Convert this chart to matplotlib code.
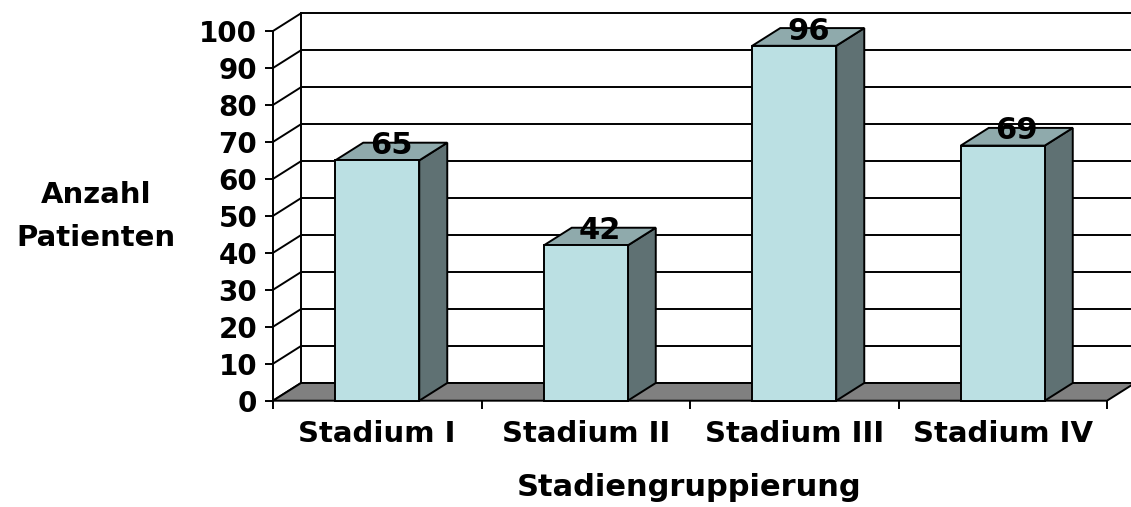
import matplotlib
matplotlib.use("Agg")
import matplotlib.pyplot as plt
from matplotlib.patches import Polygon

# Daten
stadien = ["Stadium I", "Stadium II", "Stadium III", "Stadium IV"]
patienten = [65, 42, 96, 69]
y_ticks = list(range(0, 101, 10))

# Farben (Excel-3D-Stil)
farbe_front = "#BBE0E3"
farbe_seite = "#5F7173"
farbe_oben = "#8FAAAC"
farbe_boden = "#808080"

plt.rcParams["font.family"] = "DejaVu Sans"
plt.rcParams["font.weight"] = "bold"

W, H = 1131, 507
fig = plt.figure(figsize=(W / 100, H / 100), dpi=100)
# Vorderebene des Diagramms
ax = fig.add_axes([273 / W, 1 - 400.7 / H, 834 / W, 369.7 / H])
ax.set_xlim(-0.5, len(stadien) - 0.5)
ax.set_ylim(0, 100)
for s in ax.spines.values():
    s.set_visible(False)

DX = 28 / 208.5   # Tiefe in Kategorie-Einheiten
DY = 17.7 / 3.697  # Tiefe in Werte-Einheiten
x0, x1 = -0.5, len(stadien) - 0.5
lw = 1.4

# Rückwand mit Gitterlinien
for v in y_ticks:
    ax.plot([x0 + DX, x1 + DX + 0.2], [v + DY, v + DY], color="black", lw=lw,
            clip_on=False, zorder=1)
    # Seitenwand-Linien
    ax.plot([x0, x0 + DX], [v, v + DY], color="black", lw=lw, clip_on=False, zorder=1)
ax.plot([x0 + DX, x0 + DX], [DY, 100 + DY], color="black", lw=lw, clip_on=False, zorder=1)

# Boden
boden = Polygon([(x0, 0), (x1, 0), (x1 + DX, DY), (x0 + DX, DY)], closed=True,
                facecolor=farbe_boden, edgecolor="black", lw=lw, clip_on=False, zorder=2)
ax.add_patch(boden)

# Säulen
bw = 0.403
for i, v in enumerate(patienten):
    l, r = i - bw / 2, i + bw / 2
    seite = Polygon([(r, 0), (r + DX, DY), (r + DX, v + DY), (r, v)], closed=True,
                    facecolor=farbe_seite, edgecolor="black", lw=lw, clip_on=False, zorder=3)
    oben = Polygon([(l, v), (r, v), (r + DX, v + DY), (l + DX, v + DY)], closed=True,
                   facecolor=farbe_oben, edgecolor="black", lw=lw, clip_on=False, zorder=3)
    front = Polygon([(l, 0), (r, 0), (r, v), (l, v)], closed=True,
                    facecolor=farbe_front, edgecolor="black", lw=lw, clip_on=False, zorder=3)
    for p in (seite, oben, front):
        ax.add_patch(p)
    ax.text(i + DX / 2, v + DY / 2 - 0.7, str(v), ha="center", va="baseline",
            fontsize=22, fontweight="bold", zorder=5)

# Vordere Achse
ax.plot([x0, x0], [0, 100], color="black", lw=lw, clip_on=False, zorder=4)

# Achsenbeschriftung
ax.set_yticks(y_ticks)
ax.set_yticklabels([str(t) for t in y_ticks])
ax.tick_params(axis="y", length=5.8, width=lw, pad=5.5, labelsize=20)
ax.set_xticks(range(len(stadien)))
ax.set_xticklabels(stadien)
ax.set_xticks([k - 0.5 for k in range(len(stadien) + 1)], minor=True)
ax.tick_params(axis="x", which="major", length=0, pad=14, labelsize=21)
ax.tick_params(axis="x", which="minor", length=5.8, width=lw)

ax.set_xlabel("Stadiengruppierung", fontsize=22, fontweight="bold", va="top")
ax.xaxis.set_label_coords(0.499, -0.195)
ax.set_ylabel("Anzahl\nPatienten", fontsize=21, fontweight="bold", rotation=0,
              ha="center", va="center", linespacing=1.7)
ax.yaxis.set_label_coords(-0.212, 0.498)

fig.savefig("out.png", dpi=100)
